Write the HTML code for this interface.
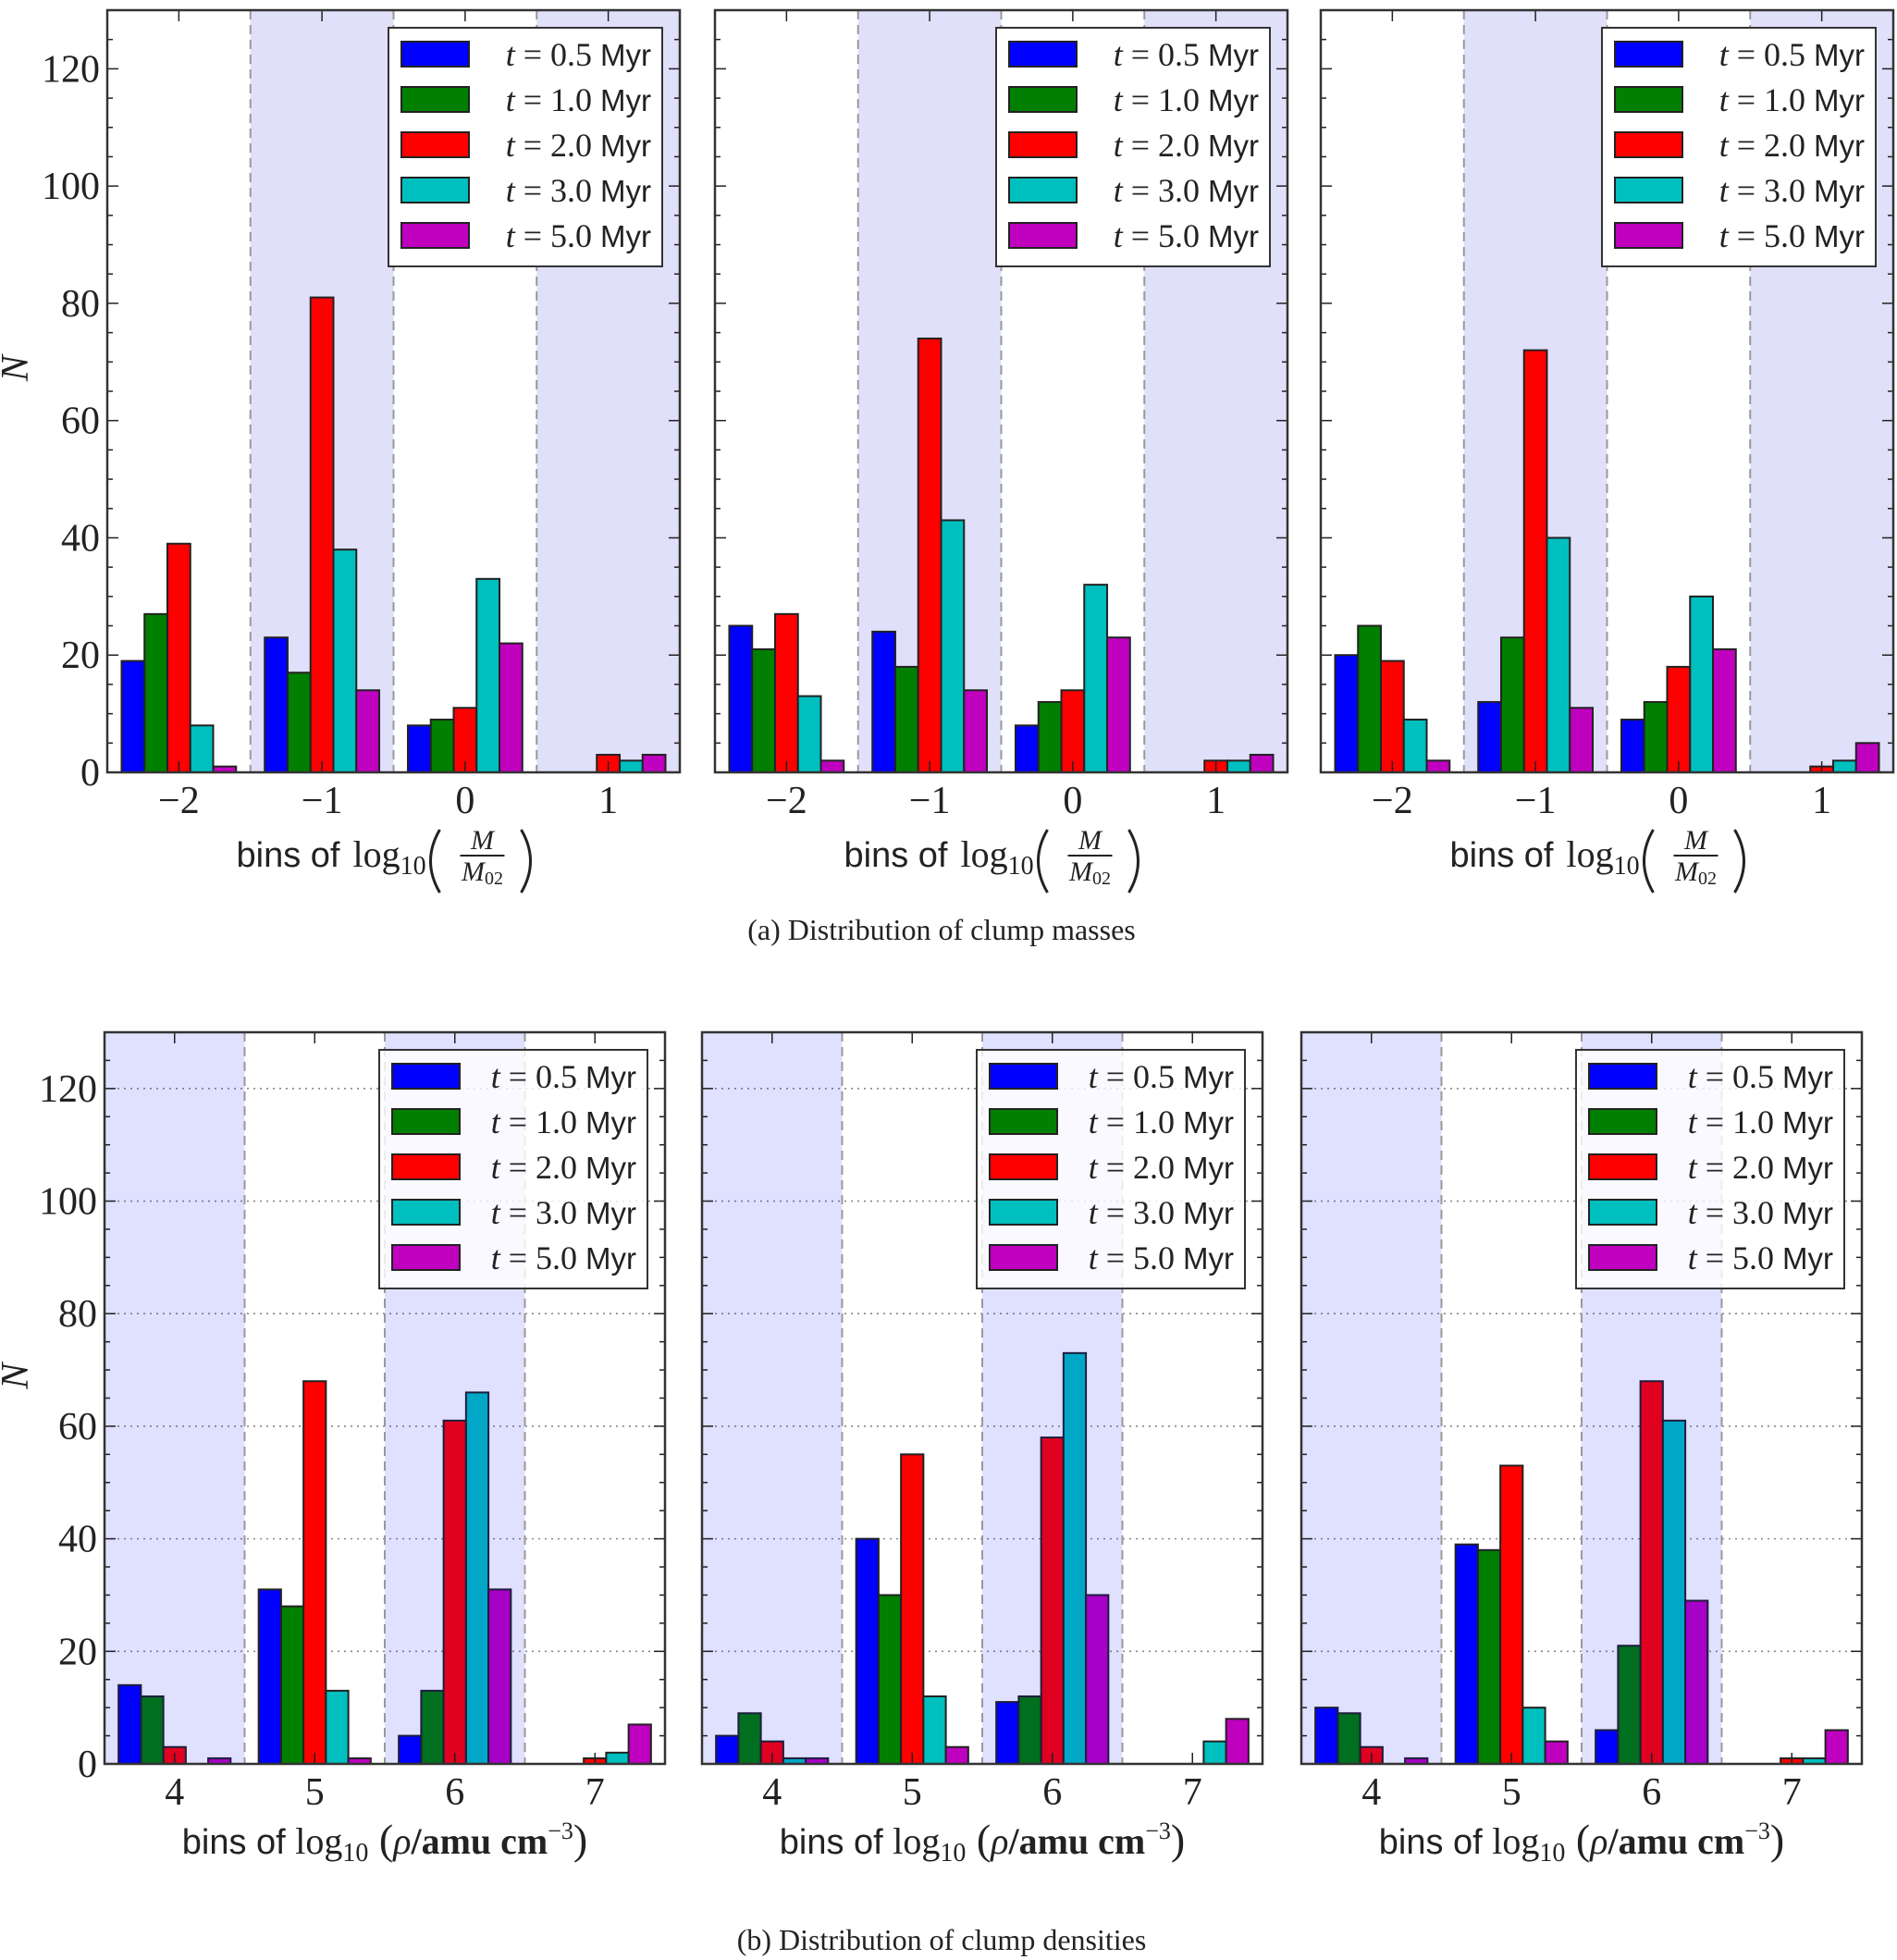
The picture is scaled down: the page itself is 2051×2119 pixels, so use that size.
<!DOCTYPE html>
<html><head><meta charset="utf-8">
<style>
html,body{margin:0;padding:0;background:#fff;}
svg{display:block;}
</style></head>
<body>
<svg id="fig" width="2051" height="2119" viewBox="0 0 2051 2119" xmlns="http://www.w3.org/2000/svg"></svg>
<script>
const seriesLabels = ["t = 0.5 Myr","t = 1.0 Myr","t = 2.0 Myr","t = 3.0 Myr","t = 5.0 Myr"];
const seriesTimes = ["0.5","1.0","2.0","3.0","5.0"];
const massBins = [-2,-1,0,1];
const massTickLabels = ["\u22122","\u22121","0","1"];
const densBins = [4,5,6,7];
const densTickLabels = ["4","5","6","7"];
const yTicks = [0,20,40,60,80,100,120];
const massP1 = [[19,23,8,0],[27,17,9,0],[39,81,11,3],[8,38,33,2],[1,14,22,3]];
const massP2 = [[25,24,8,0],[21,18,12,0],[27,74,14,2],[13,43,32,2],[2,14,23,3]];
const massP3 = [[20,12,9,0],[25,23,12,0],[19,72,18,1],[9,40,30,2],[2,11,21,5]];
const densP1 = [[14,31,5,0],[12,28,13,0],[3,68,61,1],[0,13,66,2],[1,1,31,7]];
const densP2 = [[5,40,11,0],[9,30,12,0],[4,55,58,0],[1,12,73,4],[1,3,30,8]];
const densP3 = [[10,39,6,0],[9,38,21,0],[3,53,68,1],[0,10,61,1],[1,4,29,6]];

const colors = ["#0000ff","#007f00","#ff0000","#00bfbf","#bf00bf"];
const SERIF = '"Liberation Serif", "DejaVu Serif", serif';
const SANS = '"Liberation Sans", "DejaVu Sans", sans-serif';
const NS = "http://www.w3.org/2000/svg";
const svg = document.getElementById('fig');
function mk(tag, attrs, parent){const e=document.createElementNS(NS,tag);for(const k in attrs)e.setAttribute(k,attrs[k]);(parent||svg).appendChild(e);return e;}

function panel(cfg){
  const g = mk('g',{});
  
  
  const L=cfg.x, T=cfg.y, W=cfg.w, H=cfg.h;
  const xmin=cfg.bins[0]-0.5, xmax=cfg.bins[cfg.bins.length-1]+0.5;
  const sx=v=>L+(v-xmin)/(xmax-xmin)*W;
  const sy=v=>T+H-(v/130)*H;
  const shadeBins = cfg.shade;
  if(!cfg.overlay){
    shadeBins.forEach(b=>{
      const r=mk('rect',{x:sx(b-0.5),y:T,width:sx(b+0.5)-sx(b-0.5),height:H,fill:'#e0e0fa'},g);
      
      
    });
  }
  if(cfg.grid){
    yTicks.slice(1).forEach(v=>{
      mk('line',{x1:L,x2:L+W,y1:sy(v),y2:sy(v),stroke:'#888','stroke-width':1.6,'stroke-dasharray':'2,5'},g);
    });
  }
  cfg.data.forEach((ser,si)=>{
    ser.forEach((v,bi)=>{
      if(v<=0) return;
      const x0=sx(cfg.bins[bi]-0.4+si*0.16), x1=sx(cfg.bins[bi]-0.4+(si+1)*0.16);
      const r=mk('rect',{x:x0,y:sy(v),width:x1-x0,height:sy(0)-sy(v),fill:colors[si],stroke:'#222','stroke-width':2},g);
      
      
    });
  });
  if(cfg.overlay){
    shadeBins.forEach(b=>{
      const r=mk('rect',{x:sx(b-0.5),y:T,width:sx(b+0.5)-sx(b-0.5),height:H,fill:'rgba(0,0,255,0.12)'},g);
      
      
    });
  }
  for(let i=0;i<cfg.bins.length-1;i++){
    const xv=sx(cfg.bins[i]+0.5);
    mk('line',{x1:xv,x2:xv,y1:T,y2:T+H,stroke:'#999','stroke-width':2,'stroke-dasharray':'10,6'},g);
  }
  for(let v=0;v<=130;v+=5){
    const len = v%20===0?12:6;
    mk('line',{x1:L,x2:L+len,y1:sy(v),y2:sy(v),stroke:'#222','stroke-width':1.5},g);
    mk('line',{x1:L+W,x2:L+W-len,y1:sy(v),y2:sy(v),stroke:'#222','stroke-width':1.5},g);
  }
  cfg.bins.forEach((b,i)=>{
    mk('line',{x1:sx(b),x2:sx(b),y1:T,y2:T+12,stroke:'#222','stroke-width':1.5},g);
    mk('line',{x1:sx(b),x2:sx(b),y1:T+H,y2:T+H-12,stroke:'#222','stroke-width':1.5},g);
    const t=mk('text',{x:sx(b),y:T+H+44,'text-anchor':'middle','font-size':42,'font-family':SERIF,fill:'#222'},g);
    t.textContent=cfg.tickLabels[i];
    
    
  });
  if(cfg.ylabels){
    yTicks.forEach(v=>{
      const t=mk('text',{x:L-8,y:sy(v)+14,'text-anchor':'end','font-size':42,'font-family':SERIF,fill:'#222'},g);
      t.textContent=v;
      
      
    });
    const n=mk('text',{x:0,y:0,'font-size':42,'font-style':'italic','font-family':SERIF,fill:'#222',transform:`translate(30,${T+H*0.47}) rotate(-90)`,'text-anchor':'middle'},g);
    n.textContent='N';
    
    
  }
  mk('rect',{x:L,y:T,width:W,height:H,fill:'none',stroke:'#333','stroke-width':2.5},g);
  const lg=mk('g',{},g);
  
  
  const lx=L+W-19-cfg.legW, ly=T+19;
  mk('rect',{x:lx,y:ly,width:cfg.legW,height:258,fill:cfg.overlay?'rgba(255,255,255,0.8)':'#fff',stroke:'#333','stroke-width':2},lg);
  seriesLabels.forEach((s,i)=>{
    const cy=ly+28+i*49;
    const e=mk('g',{},lg);
    
    
    mk('rect',{x:lx+14,y:cy-13,width:73,height:27,fill:colors[i],stroke:'#222','stroke-width':2},e);
    const t=mk('text',{x:lx+cfg.legW-12,y:cy+13,'text-anchor':'end','font-size':36,fill:'#222','font-family':SERIF},e);
    const a=mk('tspan',{'font-style':'italic'},t);a.textContent='t';
    const b=mk('tspan',{},t);b.textContent=' = '+seriesTimes[i]+' ';
    const c=mk('tspan',{'font-family':SANS,'font-size':33},t);c.textContent='Myr';
  });
  const cx=L+W/2;
  const xg=mk('g',{},g);
  
  
  if(cfg.mass){
    const y0=cfg.xlabY;
    const t1=mk('text',{x:cx-170,y:y0,'font-size':38,fill:'#222','font-family':SANS},xg);t1.textContent='bins of';
    const t2=mk('text',{x:cx-44,y:y0,'font-size':40,fill:'#222','font-family':SERIF},xg);
    const a=mk('tspan',{},t2);a.textContent='log';
    const b=mk('tspan',{'font-size':28,dy:8},t2);b.textContent='10';
    mk('path',{d:`M ${cx+50} ${y0-40} Q ${cx+30} ${y0-6} ${cx+50} ${y0+28}`,fill:'none',stroke:'#222','stroke-width':3},xg);
    const f1=mk('text',{x:cx+96,y:y0-19,'font-size':30,'font-style':'italic','text-anchor':'middle',fill:'#222','font-family':SERIF},xg);f1.textContent='M';
    mk('line',{x1:cx+72,x2:cx+120,y1:y0-12,y2:y0-12,stroke:'#222','stroke-width':2},xg);
    const f2=mk('text',{x:cx+96,y:y0+15,'font-size':30,'text-anchor':'middle',fill:'#222','font-family':SERIF},xg);
    const m=mk('tspan',{'font-style':'italic'},f2);m.textContent='M';
    const s=mk('tspan',{'font-size':20,dy:4},f2);s.textContent='02';
    mk('path',{d:`M ${cx+138} ${y0-40} Q ${cx+158} ${y0-6} ${cx+138} ${y0+28}`,fill:'none',stroke:'#222','stroke-width':3},xg);
  } else {
    const xl=mk('text',{x:cx,y:cfg.xlabY,'text-anchor':'middle','font-size':40,fill:'#222','font-family':SERIF},xg);
    const p1=mk('tspan',{'font-family':SANS,'font-size':38},xl);p1.textContent='bins of ';
    const p2=mk('tspan',{},xl);p2.textContent='log';
    const p3=mk('tspan',{'font-size':28,dy:8},xl);p3.textContent='10';
    const p4=mk('tspan',{dy:-8,'font-size':46},xl);p4.textContent=' (';
    const p5=mk('tspan',{'font-style':'italic'},xl);p5.textContent='\u03c1';
    const p6=mk('tspan',{'font-weight':'bold'},xl);p6.textContent='/amu cm';
    const p7=mk('tspan',{'font-size':26,dy:-16},xl);p7.textContent='\u22123';
    const p8=mk('tspan',{dy:16,'font-size':46},xl);p8.textContent=')';
  }
}

const topY=11, topH=824;
[[116,massP1,true],[773,massP2,false],[1428,massP3,false]].forEach((p,i)=>{
  panel({name:'mass-panel-'+(i+1),x:p[0],y:topY,w:619,h:topH,bins:massBins,tickLabels:massTickLabels,data:p[1],shade:[-1,1],overlay:false,grid:false,ylabels:p[2],legW:296,xlabY:937,mass:true});
});
const botY=1116, botH=791;
[[113,densP1,true],[759,densP2,false],[1407,densP3,false]].forEach((p,i)=>{
  panel({name:'density-panel-'+(i+1),x:p[0],y:botY,w:606,h:botH,bins:densBins,tickLabels:densTickLabels,data:p[1],shade:[4,6],overlay:true,grid:true,ylabels:p[2],legW:290,xlabY:2004,mass:false});
});
const c1=mk('text',{x:1018,y:1016,'text-anchor':'middle','font-size':32,'font-family':SERIF,fill:'#222'});
c1.textContent='(a)  Distribution of clump masses';


const c2=mk('text',{x:1018,y:2108,'text-anchor':'middle','font-size':32,'font-family':SERIF,fill:'#222'});
c2.textContent='(b)  Distribution of clump densities';


</script>
</body></html>
